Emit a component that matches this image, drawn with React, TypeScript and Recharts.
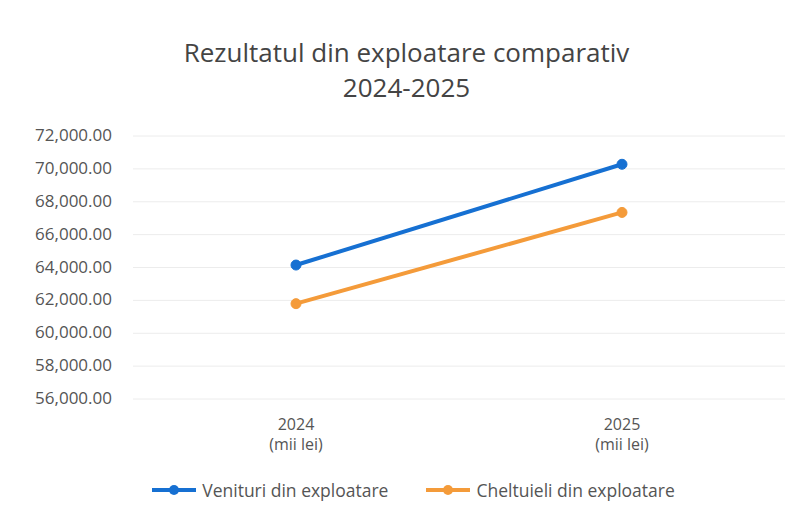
import React from "react";
import { LineChart, Line, XAxis, YAxis, CartesianGrid } from "recharts";

const categories = ["2024", "2025"];
const unitLabel = "(mii lei)";
const venituri = [64150, 70280];
const cheltuieli = [61800, 67350];
const yTicks = [56000, 58000, 60000, 62000, 64000, 66000, 68000, 70000, 72000];
const seriesNames = ["Venituri din exploatare", "Cheltuieli din exploatare"];
const titleLines = ["Rezultatul din exploatare comparativ", "2024-2025"];

const data = categories.map((c, i) => ({ cat: c, v: venituri[i], c: cheltuieli[i] }));

const BLUE = "#1670d2";
const ORANGE = "#f49b3a";
const TEXT = "#555555";
const FONT = "'Open Sans', 'Noto Sans', sans-serif";

const fmt = (v: number) =>
  v.toLocaleString("en-US", { minimumFractionDigits: 2, maximumFractionDigits: 2 });

const XTick = (props: any) => {
  const { x, y, payload } = props;
  return (
    <g>
      <text x={x} y={y + 23} textAnchor="middle" fill={TEXT} fontSize={16} fontFamily={FONT}>
        {payload.value}
      </text>
      <text x={x} y={y + 43} textAnchor="middle" fill={TEXT} fontSize={16} fontFamily={FONT}>
        {unitLabel}
      </text>
    </g>
  );
};

const YTick = (props: any) => {
  const { x, y, payload } = props;
  return (
    <text x={x} y={y + 5} textAnchor="end" fill={TEXT} fontSize={17} fontFamily={FONT}>
      {fmt(payload.value)}
    </text>
  );
};

const LegendBox = () => {
  const items = [
    { name: seriesNames[0], color: BLUE },
    { name: seriesNames[1], color: ORANGE },
  ];
  return (
    <div
      style={{
        position: "absolute",
        left: 0,
        top: 478,
        width: 797,
        display: "flex",
        justifyContent: "center",
        gap: 38,
        fontFamily: FONT,
        fontSize: 17.5,
        color: TEXT,
        paddingLeft: 30,
        boxSizing: "border-box",
      }}
    >
      {items.map((it) => (
        <div key={it.name} style={{ display: "flex", alignItems: "center" }}>
          <svg width={44} height={12} style={{ marginRight: 6 }}>
            <line x1={0} y1={6} x2={44} y2={6} stroke={it.color} strokeWidth={4} />
            <circle cx={22} cy={6} r={5} fill={it.color} />
          </svg>
          <span>{it.name}</span>
        </div>
      ))}
    </div>
  );
};

export default function App() {
  return (
    <div style={{ position: "absolute", left: 0, top: 0, width: 797, height: 520, background: "#fff" }}>
      <div
        style={{
          position: "absolute",
          left: 0,
          top: 35,
          width: 797,
          textAlign: "center",
          fontFamily: FONT,
          fontSize: 26,
          lineHeight: "35px",
          color: "#444",
          paddingLeft: 16,
          boxSizing: "border-box",
        }}
      >
        {titleLines.map((t) => (
          <div key={t}>{t}</div>
        ))}
      </div>
      <LineChart
        width={797}
        height={520}
        data={data}
        margin={{ top: 136, right: 12, bottom: 61, left: 0 }}
      >
        <CartesianGrid vertical={false} stroke="#ececec" strokeWidth={1} />
        <XAxis
          dataKey="cat"
          axisLine={false}
          tickLine={false}
          tick={<XTick />}
          height={60}
          interval={0}
          padding={{ left: 163, right: 163 }}
        />
        <YAxis
          width={133}
          domain={[56000, 72000]}
          ticks={yTicks}
          axisLine={false}
          tickLine={false}
          tickSize={0}
          tickMargin={21}
          tick={<YTick />}
          interval={0}
        />
        <Line
          dataKey="v"
          name={seriesNames[0]}
          stroke={BLUE}
          strokeWidth={4}
          dot={{ r: 5, fill: BLUE, stroke: BLUE, strokeWidth: 1 }}
          isAnimationActive={false}
        />
        <Line
          dataKey="c"
          name={seriesNames[1]}
          stroke={ORANGE}
          strokeWidth={4}
          dot={{ r: 5, fill: ORANGE, stroke: ORANGE, strokeWidth: 1 }}
          isAnimationActive={false}
        />
      </LineChart>
      <LegendBox />
    </div>
  );
}
